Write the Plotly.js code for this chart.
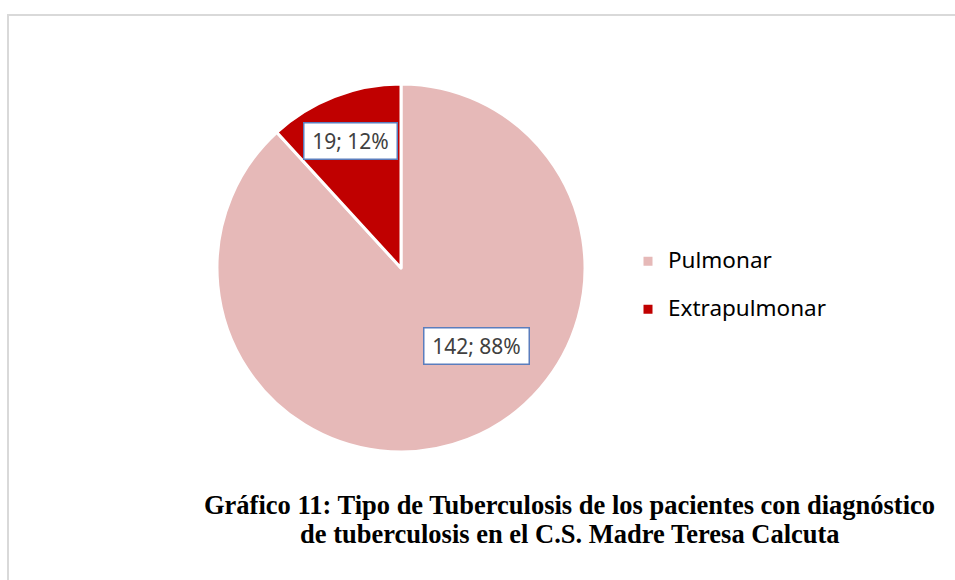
<!DOCTYPE html>
<html>
<head>
<meta charset="utf-8">
<script src="https://cdn.plot.ly/plotly-3.0.1.min.js"></script>
<style>html,body{margin:0;padding:0;background:#fff;}#chart{width:955px;height:580px;}</style>
</head>
<body>
<div id="chart"></div>
<script>
const categories = ["Pulmonar", "Extrapulmonar"];
const counts = [142, 19];
const sliceColors = ["#E6B9B8", "#C00000"];
const titleLines = ["Gráfico 11: Tipo de Tuberculosis de los pacientes con diagnóstico", "de tuberculosis en el C.S. Madre Teresa Calcuta"];

const W = 955, H = 580;
const px = x => x / W;
const py = y => 1 - y / H;

const total = counts.reduce((a, b) => a + b, 0);
const labelTexts = counts.map(v => v + "; " + Math.round(100 * v / total) + "%");
// label box centres and inner widths (pixels)
const labelPos = [[476.5, 346.5], [350.5, 141]];
const labelBoxW = [96, 84];

const trace = {
  type: "pie",
  labels: categories.map(c => '<span style="font-size:22.5px">' + c + "</span><br>\u00a0"),
  values: counts,
  sort: false,
  direction: "clockwise",
  rotation: 0,
  textinfo: "none",
  hoverinfo: "value+percent",
  marker: { colors: sliceColors, line: { color: "#FFFFFF", width: 3 } },
  domain: { x: [px(217), px(585)], y: [py(452), py(84)] }
};

const annotations = labelTexts.map((t, i) => ({
  xref: "paper", yref: "paper",
  x: px(labelPos[i][0]), y: py(labelPos[i][1]),
  xanchor: "center", yanchor: "middle",
  text: t, showarrow: false,
  width: labelBoxW[i], height: 27,
  font: { family: "Noto Sans", size: 21, color: "#404040" },
  bgcolor: "#FFFFFF", bordercolor: "#5B7DBD", borderwidth: 1.5, borderpad: 4
}));
const titleY = [505, 534];
titleLines.forEach((t, i) => annotations.push({
  xref: "paper", yref: "paper",
  x: px(569.5), y: py(titleY[i]),
  xanchor: "center", yanchor: "middle",
  text: t, showarrow: false,
  font: { family: "Liberation Serif", size: 26.5, color: "#000000", weight: "bold" }
}));

const layout = {
  width: W, height: H,
  margin: { l: 0, r: 0, t: 0, b: 0 },
  paper_bgcolor: "#FFFFFF",
  showlegend: true,
  legend: {
    x: px(628), y: py(243.5), xanchor: "left", yanchor: "top",
    font: { family: "Noto Sans", size: 17.3, color: "#000000" },
    valign: "top", itemwidth: 30,
    bgcolor: "rgba(0,0,0,0)", borderwidth: 0
  },
  annotations: annotations,
  shapes: [{
    type: "rect", xref: "paper", yref: "paper",
    x0: px(8), y0: -0.02, x1: 1.02, y1: py(15),
    line: { color: "#D9D9D9", width: 2 }, fillcolor: "rgba(0,0,0,0)", layer: "below"
  }]
};

Plotly.newPlot("chart", [trace], layout, { displayModeBar: false, staticPlot: true });
</script>
</body>
</html>
